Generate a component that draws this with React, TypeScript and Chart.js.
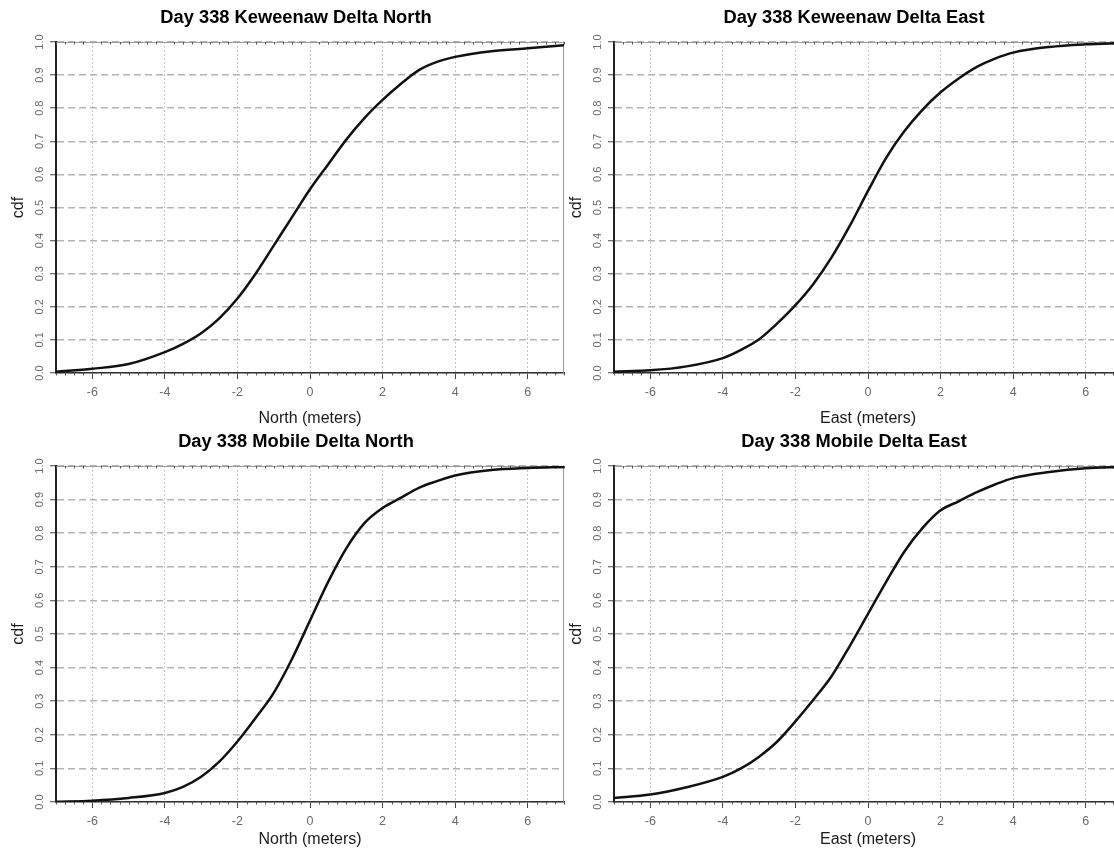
import React, { useEffect, useRef } from "react";
import { Chart, registerables } from "chart.js";

Chart.register(...registerables);
Chart.defaults.font.family = "'Liberation Sans', Arial, Helvetica, sans-serif";

// ---- data ----
const X_TICKS = [-6, -4, -2, 0, 2, 4, 6];
const Y_TICKS = [0, 0.1, 0.2, 0.3, 0.4, 0.5, 0.6, 0.7, 0.8, 0.9, 1.0];
const X_MIN = -7;
const X_MAX = 7;

const CDF_X = [-7, -6, -5, -4, -3.5, -3, -2.5, -2, -1.5, -1, -0.5, 0, 0.5, 1, 1.5, 2, 2.5, 3, 3.5, 4, 5, 6, 7];
const KEWEENAW_NORTH = [0.004, 0.013, 0.027, 0.063, 0.088, 0.12, 0.165, 0.225, 0.3, 0.385, 0.47, 0.555, 0.63, 0.705, 0.77, 0.825, 0.873, 0.915, 0.94, 0.955, 0.972, 0.981, 0.99];
const KEWEENAW_EAST = [0.004, 0.008, 0.02, 0.045, 0.07, 0.102, 0.15, 0.205, 0.27, 0.35, 0.445, 0.55, 0.65, 0.73, 0.795, 0.848, 0.89, 0.925, 0.95, 0.968, 0.985, 0.993, 0.997];
const MOBILE_NORTH = [0.001, 0.004, 0.012, 0.027, 0.045, 0.075, 0.12, 0.18, 0.25, 0.325, 0.425, 0.54, 0.655, 0.755, 0.83, 0.875, 0.905, 0.935, 0.955, 0.972, 0.988, 0.994, 0.997];
const MOBILE_EAST = [0.012, 0.022, 0.044, 0.075, 0.1, 0.135, 0.18, 0.24, 0.305, 0.375, 0.465, 0.56, 0.655, 0.745, 0.815, 0.868, 0.895, 0.922, 0.945, 0.964, 0.982, 0.993, 0.997];

const TITLES = [
  "Day 338 Keweenaw Delta North",
  "Day 338 Keweenaw Delta East",
  "Day 338 Mobile Delta North",
  "Day 338 Mobile Delta East",
];
const X_TITLES = ["North (meters)", "East (meters)", "North (meters)", "East (meters)"];
const Y_TITLE = "cdf";

// ---- decoration plugin (R-style frame + minor ticks) ----
const framePlugin = {
  id: "rFrame",
  beforeDatasetsDraw(chart: any) {
    const { ctx, chartArea } = chart;
    const { left, right, top, bottom } = chartArea;
    const xs = chart.scales.x;
    ctx.save();
    ctx.strokeStyle = "#9a9a9a";
    ctx.lineWidth = 1;
    ctx.setLineDash([]);
    ctx.beginPath();
    ctx.moveTo(left, top + 0.5);
    ctx.lineTo(right, top + 0.5);
    ctx.moveTo(right - 0.5, top);
    ctx.lineTo(right - 0.5, bottom);
    ctx.stroke();
    ctx.strokeStyle = "#555";
    ctx.beginPath();
    for (let i = 0; ; i++) {
      const v = xs.min + i * 0.25;
      if (v > xs.max + 1e-9) break;
      if (Math.abs(v % 2) < 1e-9) continue;
      const px = Math.round(xs.getPixelForValue(v)) + 0.5;
      ctx.moveTo(px, bottom);
      ctx.lineTo(px, bottom + 2.5);
      ctx.moveTo(px, top);
      ctx.lineTo(px, top + 2.5);
    }
    ctx.stroke();
    ctx.restore();
  },
};

type PanelProps = {
  left: number;
  top: number;
  width: number;
  height: number;
  plotLeft: number;
  plotRight: number;
  plotTop: number;
  plotBottom: number;
  xTitlePad: number;
  title: string;
  xTitle: string;
  values: number[];
};

function Panel(p: PanelProps) {
  const ref = useRef<HTMLCanvasElement>(null);
  useEffect(() => {
    if (!ref.current) return;
    const titleSize = 18.3;
    const titleLH = titleSize * 1.2;
    const titlePadTop = 18 - titleLH / 2;
    const rightDummy = 28;
    const chart = new Chart(ref.current, {
      type: "line",
      data: {
        datasets: [
          {
            data: CDF_X.map((x, i) => ({ x, y: p.values[i] })),
            borderColor: "#111",
            borderWidth: 2.5,
            pointRadius: 0,
            cubicInterpolationMode: "monotone",
            fill: false,
          },
        ],
      },
      options: {
        responsive: false,
        animation: false,
        devicePixelRatio: 1,
        layout: { padding: { left: 0, top: 0, bottom: 0, right: p.width - p.plotRight - rightDummy } },
        plugins: {
          legend: { display: false },
          tooltip: { enabled: false },
          title: {
            display: true,
            text: p.title,
            color: "#000",
            font: { size: titleSize, weight: "bold" },
            padding: { top: titlePadTop, bottom: p.plotTop - titlePadTop - titleLH },
          },
        },
        scales: {
          x: {
            type: "linear",
            min: X_MIN,
            max: X_MAX,
            afterBuildTicks: (s: any) => {
              s.ticks = X_TICKS.map((v) => ({ value: v }));
            },
            afterFit: (s: any) => {
              s.height = p.height - p.plotBottom;
            },
            ticks: {
              autoSkip: false,
              maxRotation: 0,
              minRotation: 0,
              padding: 6,
              color: "#6a6a6a",
              font: { size: 12.5 },
              callback: (v: any) => String(v),
            },
            grid: {
              color: "#c4c4c4",
              lineWidth: 1,
              drawTicks: true,
              tickLength: 6,
              tickColor: "#444",
              tickWidth: 1,
              tickBorderDash: [],
            },
            border: { display: true, color: "#333", width: 1.5, dash: [2, 2] },
            title: {
              display: true,
              text: p.xTitle,
              color: "#1a1a1a",
              font: { size: 16 },
              padding: { top: 0, bottom: p.xTitlePad },
            },
          },
          y: {
            type: "linear",
            min: 0,
            max: 1,
            afterBuildTicks: (s: any) => {
              s.ticks = Y_TICKS.map((v) => ({ value: v }));
            },
            afterFit: (s: any) => {
              s.width = p.plotLeft;
            },
            ticks: {
              autoSkip: false,
              minRotation: 90,
              maxRotation: 90,
              crossAlign: "center",
              padding: 2.4,
              color: "#6a6a6a",
              font: { size: 11 },
              callback: (v: any) => Number(v).toFixed(1),
            },
            grid: {
              color: "#b4b4b4",
              lineWidth: 1.5,
              drawTicks: true,
              tickLength: 6,
              tickColor: "#444",
              tickWidth: 1,
              tickBorderDash: [],
            },
            border: { display: true, color: "#222", width: 2, dash: [7, 4] },
            title: {
              display: true,
              text: Y_TITLE,
              color: "#1a1a1a",
              font: { size: 16 },
              padding: { top: 9.4, bottom: 0 },
            },
          },
          yPad: {
            type: "linear",
            position: "right",
            display: true,
            afterFit: (s: any) => {
              s.width = rightDummy;
            },
            ticks: { display: false },
            grid: { display: false, drawOnChartArea: false, drawTicks: false },
            border: { display: false },
          },
        },
      } as any,
      plugins: [framePlugin],
    });
    return () => chart.destroy();
  }, []);
  return (
    <canvas
      ref={ref}
      width={p.width}
      height={p.height}
      style={{ position: "absolute", left: p.left, top: p.top, width: p.width, height: p.height, display: "block" }}
    />
  );
}

const VALUES = [KEWEENAW_NORTH, KEWEENAW_EAST, MOBILE_NORTH, MOBILE_EAST];
const PANEL_LEFT = [0, 558, 0, 558];
const PANEL_TOP = [0, 0, 424, 424];
const PANEL_HEIGHT = [430, 430, 428, 428];
const PANEL_PLOT_BOTTOM = [373, 373, 378, 378];
const PANEL_XTITLE_PAD = [1.6, 1.6, 2.6, 2.6];

export default function App() {
  return (
    <div
      style={{
        position: "fixed",
        left: 0,
        top: 0,
        width: 1114,
        height: 852,
        overflow: "hidden",
        background: "#fff",
      }}
    >
      {TITLES.map((t, i) => (
        <Panel
          key={t}
          left={PANEL_LEFT[i]}
          top={PANEL_TOP[i]}
          width={600}
          height={PANEL_HEIGHT[i]}
          plotLeft={56}
          plotRight={564}
          plotTop={42}
          plotBottom={PANEL_PLOT_BOTTOM[i]}
          xTitlePad={PANEL_XTITLE_PAD[i]}
          title={t}
          xTitle={X_TITLES[i]}
          values={VALUES[i]}
        />
      ))}
    </div>
  );
}
